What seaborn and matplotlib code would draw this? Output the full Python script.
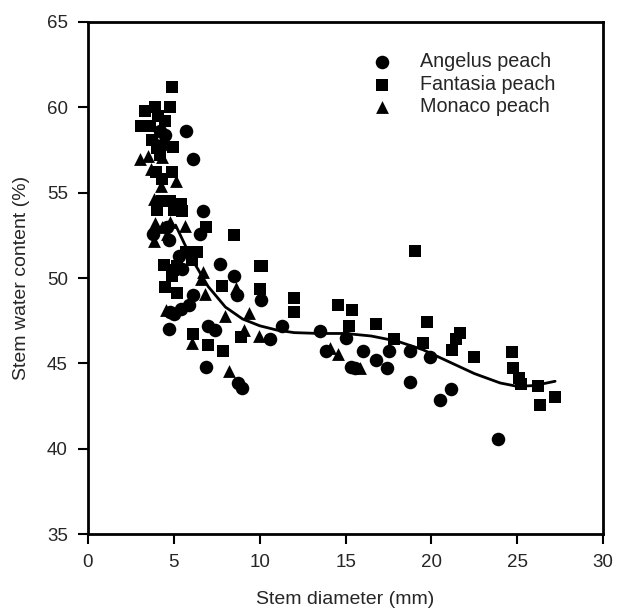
import numpy as np
import pandas as pd
import seaborn as sns
import matplotlib
matplotlib.use('Agg')
import matplotlib.pyplot as plt

# stem diameter (mm) vs stem water content (%)
angelus_x = [3.8, 4.2, 4.5, 4.3, 4.7, 4.6, 5.3, 5.7, 6.1, 6.7, 6.5, 5.4, 5.0, 4.8, 4.7,
             5.9, 6.1, 5.5, 7.7, 8.5, 8.7, 10.1, 7.0, 7.4, 6.85, 8.75, 8.95, 10.6, 11.3,
             13.5, 13.85, 15.05, 15.3, 15.55, 16.0, 16.75, 17.4, 17.55, 18.75, 18.75,
             19.9, 20.5, 21.15, 23.85]
angelus_y = [52.6, 58.6, 58.4, 57.8, 52.2, 53.0, 51.3, 58.6, 57.0, 53.9, 52.6, 48.2, 47.9,
             48.0, 47.0, 48.4, 49.0, 50.5, 50.8, 50.1, 49.0, 48.7, 47.2, 46.95, 44.8, 43.85,
             43.55, 46.4, 47.2, 46.9, 45.7, 46.5, 44.8, 44.7, 45.75, 45.2, 44.7, 45.75,
             45.75, 43.9, 45.35, 42.85, 43.5, 40.55]

fantasia_x = [3.1, 3.3, 3.6, 3.75, 3.9, 4.1, 4.5, 4.8, 4.9, 4.0, 4.2, 4.95, 3.95, 4.3, 4.9,
              4.0, 4.3, 4.75, 5.0, 5.4, 5.45, 6.9, 8.5, 4.45, 4.95, 4.9, 5.7, 6.35, 6.05,
              5.2, 4.5, 5.2, 7.8, 10.0, 10.15, 10.0, 12.0, 12.0, 6.1, 7.0, 7.85, 8.9,
              14.55, 15.4, 15.2, 16.75, 17.8, 19.05, 19.5, 19.75, 21.2, 21.45, 21.65, 22.5,
              24.7, 24.75, 25.1, 25.2, 26.2, 26.35, 27.2]
fantasia_y = [58.9, 59.8, 58.9, 58.1, 60.0, 59.5, 59.2, 60.0, 61.2, 57.6, 57.2, 57.65, 56.2,
              55.8, 56.2, 54.0, 54.5, 54.5, 54.0, 54.35, 53.95, 53.0, 52.5, 50.75, 50.45,
              50.1, 51.5, 51.5, 51.05, 50.7, 49.45, 49.1, 49.55, 50.7, 50.7, 49.35, 48.85,
              48.0, 46.7, 46.1, 45.7, 46.55, 48.4, 48.1, 47.2, 47.3, 46.45, 51.6, 46.2, 47.4,
              45.8, 46.45, 46.8, 45.35, 45.65, 44.7, 44.15, 43.8, 43.65, 42.55, 43.0]

monaco_x = [3.05, 3.5, 3.65, 4.3, 4.0, 4.25, 3.85, 5.1, 3.9, 4.3, 3.85, 4.6, 5.65, 6.7, 6.6,
            6.8, 4.55, 7.95, 9.35, 9.1, 9.95, 6.05, 8.2, 8.6, 14.1, 14.55, 15.85, 4.8]
monaco_y = [56.95, 57.15, 56.4, 57.1, 57.9, 55.4, 54.6, 55.7, 53.2, 53.0, 52.15, 52.6, 53.05,
            50.35, 49.95, 49.05, 48.1, 47.8, 47.95, 46.95, 46.6, 46.2, 44.55, 49.4, 45.9,
            45.55, 44.7, 53.3]

# fitted curve as drawn
curve_x = [5.1, 6.0, 7.0, 8.0, 9.0, 10.0, 11.0, 12.0, 13.5, 15.0, 16.5, 18.0, 19.5, 21.0,
           22.5, 24.0, 25.0, 26.0, 27.2]
curve_y = [53.1, 51.2, 49.5, 48.3, 47.6, 47.2, 46.95, 46.8, 46.75, 46.75, 46.6, 46.3, 45.8,
           45.1, 44.4, 43.85, 43.65, 43.7, 43.95]

df = pd.concat([
    pd.DataFrame({'diameter': angelus_x, 'water': angelus_y, 'cultivar': 'Angelus peach'}),
    pd.DataFrame({'diameter': fantasia_x, 'water': fantasia_y, 'cultivar': 'Fantasia peach'}),
    pd.DataFrame({'diameter': monaco_x, 'water': monaco_y, 'cultivar': 'Monaco peach'}),
])

sns.set_style('ticks')
plt.rcParams['font.family'] = ['Liberation Sans', 'DejaVu Sans']

fig = plt.figure(figsize=(6.17, 6.11), dpi=100)
ax = fig.add_axes([0.1426, 0.126, 0.835, 0.838])

markers = {'Angelus peach': ('o', 95), 'Fantasia peach': ('s', 80), 'Monaco peach': ('^', 85)}
for name, (mk, size) in markers.items():
    sub = df[df['cultivar'] == name]
    sns.scatterplot(data=sub, x='diameter', y='water', marker=mk, s=size, color='black',
                    linewidth=0, label=name, ax=ax, legend=False)

sns.lineplot(x=curve_x, y=curve_y, color='black', linewidth=2, ax=ax)

ax.set_xlim(0, 30)
ax.set_ylim(35, 65)
ax.set_xticks(range(0, 31, 5))
ax.set_yticks(range(35, 66, 5))
ax.tick_params(labelsize=13.5, length=7.5, width=1.5, pad=7, color='black', direction='out')
ax.set_xlabel('Stem diameter (mm)', fontsize=14, labelpad=14)
ax.set_ylabel('Stem water content (%)', fontsize=14, labelpad=12)
for sp in ax.spines.values():
    sp.set_visible(True)
    sp.set_linewidth(2)
    sp.set_color('black')

ax.legend(loc='upper left', bbox_to_anchor=(0.518, 0.956), frameon=False, fontsize=14.2,
          handletextpad=0.9, labelspacing=0.17, borderaxespad=0)

fig.savefig('out.png', dpi=100)
